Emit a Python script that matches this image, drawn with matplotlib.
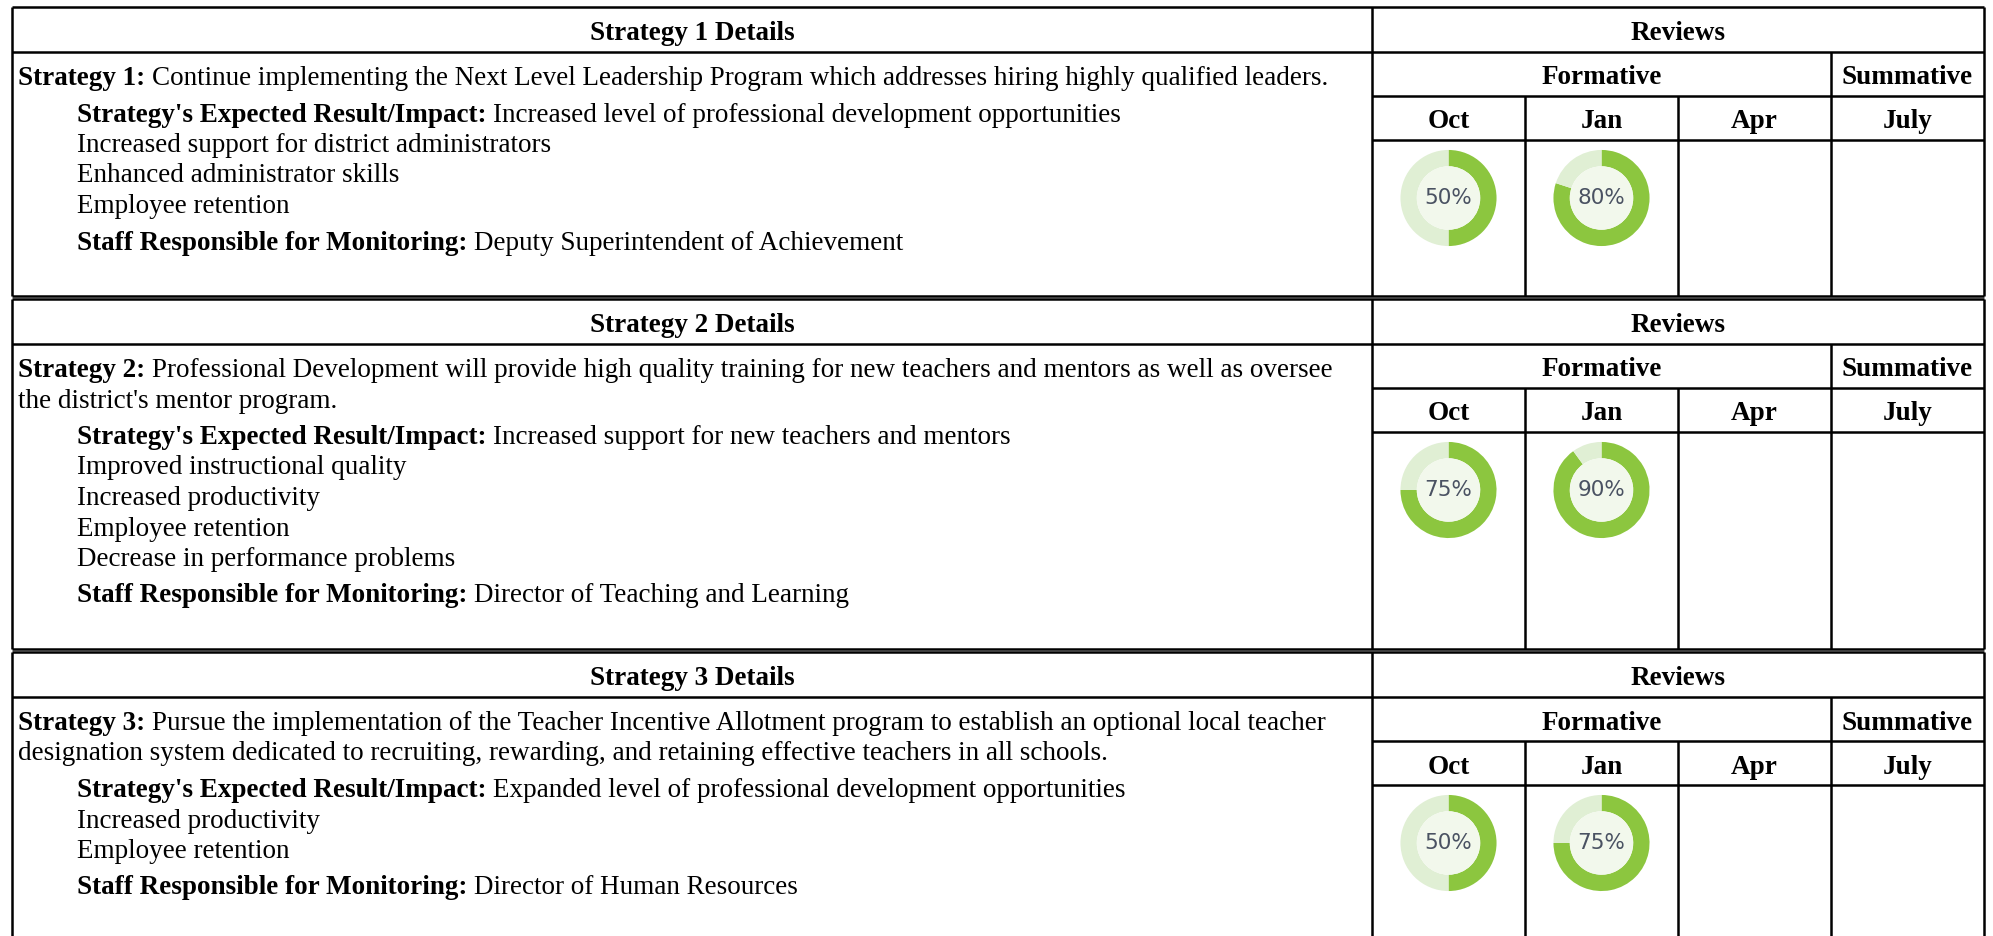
import matplotlib
matplotlib.use("Agg")
import matplotlib.pyplot as plt
from matplotlib.patches import Circle

# ---------------- data ----------------
strategy_labels = ["Strategy 1", "Strategy 2", "Strategy 3"]
strategy_desc = [
    ["Continue implementing the Next Level Leadership Program which addresses hiring highly qualified leaders."],
    ["Professional Development will provide high quality training for new teachers and mentors as well as oversee",
     "the district's mentor program."],
    ["Pursue the implementation of the Teacher Incentive Allotment program to establish an optional local teacher",
     "designation system dedicated to recruiting, rewarding, and retaining effective teachers in all schools."],
]
expected_results = [
    ["Increased level of professional development opportunities",
     "Increased support for district administrators",
     "Enhanced administrator skills",
     "Employee retention"],
    ["Increased support for new teachers and mentors",
     "Improved instructional quality",
     "Increased productivity",
     "Employee retention",
     "Decrease in performance problems"],
    ["Expanded level of professional development opportunities",
     "Increased productivity",
     "Employee retention"],
]
staff_responsible = ["Deputy Superintendent of Achievement",
                     "Director of Teaching and Learning",
                     "Director of Human Resources"]
months = ["Oct", "Jan", "Apr", "July"]
oct_values = [50, 75, 50]
jan_values = [80, 90, 75]

# ---------------- layout ----------------
W, H = 1993, 936
fig = plt.figure(figsize=(W / 100, H / 100), dpi=100)
ax = fig.add_axes([0, 0, 1, 1])
ax.set_xlim(0, W)
ax.set_ylim(H, 0)
ax.axis("off")
renderer = fig.canvas.get_renderer()

SERIF = "Liberation Serif"
LW = 1.8
GREEN = "#8cc63f"
LIGHT = "#e0efd4"
INNER = "#f2f8ec"
DTXT = "#4a5262"
DY = 4  # text baseline nudge

XL, XD, XR = 12, 1372, 1984
col_x = [1372, 1525, 1678, 1831, 1984]
block_tops = [7, 299, 652]
block_bottoms = [296, 649, None]

# auto-fit body font size to the reference width of the first strategy line
t_a = ax.text(0, 0, strategy_labels[0] + ": ", fontsize=20, fontweight="bold", family=SERIF)
t_b = ax.text(0, 0, strategy_desc[0][0], fontsize=20, family=SERIF)
wtot = t_a.get_window_extent(renderer).width + t_b.get_window_extent(renderer).width
t_a.remove(); t_b.remove()
FS = 20 * 1310 / wtot


def txt(x, y, s, bold=False, ha="left"):
    return ax.text(x, y + DY, s, fontsize=FS, fontweight="bold" if bold else "normal",
                   family=SERIF, va="center", ha=ha, color="black")


def mixed(x, y, bold, regular):
    t1 = txt(x, y, bold, bold=True)
    w = t1.get_window_extent(renderer).width
    txt(x + w, y, regular)


def hline(y, x0, x1):
    ax.plot([x0, x1], [y, y], color="black", lw=LW, solid_capstyle="butt")


def vline(x, y0, y1):
    ax.plot([x, x], [y0, y1], color="black", lw=LW, solid_capstyle="butt")


def donut(cx, cy, value, r=49):
    dax = fig.add_axes([(cx - r) / W, 1 - (cy + r) / H, 2 * r / W, 2 * r / H])
    dax.pie([value, 100 - value], colors=[GREEN, LIGHT], startangle=90,
            counterclock=False, radius=1.0,
            wedgeprops=dict(width=0.34, linewidth=0))
    dax.add_patch(Circle((0, 0), 0.66, color=INNER, lw=0))
    dax.text(0, 0, f"{value}%", ha="center", va="center", fontsize=15.5,
             family="DejaVu Sans", color=DTXT)
    dax.set_xlim(-1.02, 1.02)
    dax.set_ylim(-1.02, 1.02)
    dax.axis("off")


for i in range(3):
    T = block_tops[i]
    B = block_bottoms[i] if block_bottoms[i] is not None else H + 5
    # grid lines
    hline(T, XL, XR)
    hline(T + 45, XL, XR)
    hline(T + 89, XD, XR)
    hline(T + 133, XD, XR)
    if block_bottoms[i] is not None:
        hline(B, XL, XR)
    vline(XL, T, B)
    vline(XD, T, B)
    vline(XR, T, B)
    vline(col_x[3], T + 45, B)
    vline(col_x[1], T + 89, B)
    vline(col_x[2], T + 89, B)

    # headers
    txt((XL + XD) / 2, T + 22.5, f"{strategy_labels[i]} Details", bold=True, ha="center")
    txt((XD + XR) / 2, T + 22.5, "Reviews", bold=True, ha="center")
    txt((col_x[0] + col_x[3]) / 2, T + 67, "Formative", bold=True, ha="center")
    txt((col_x[3] + col_x[4]) / 2, T + 67, "Summative", bold=True, ha="center")
    for j, m in enumerate(months):
        txt((col_x[j] + col_x[j + 1]) / 2, T + 111, m, bold=True, ha="center")

    # body text
    y = T + 67.5
    for k, line in enumerate(strategy_desc[i]):
        if k == 0:
            mixed(18, y, strategy_labels[i] + ": ", line)
        else:
            y += 30.5
            txt(18, y, line)
    y += 36.5
    mixed(77, y, "Strategy's Expected Result/Impact: ", expected_results[i][0])
    for item in expected_results[i][1:]:
        y += 30.5
        txt(77, y, item)
    y += 36.5
    mixed(77, y, "Staff Responsible for Monitoring: ", staff_responsible[i])

    # donuts
    cy = T + 191
    donut((col_x[0] + col_x[1]) / 2, cy, oct_values[i])
    donut((col_x[1] + col_x[2]) / 2, cy, jan_values[i])

fig.savefig("out.png", dpi=100, facecolor="white")
